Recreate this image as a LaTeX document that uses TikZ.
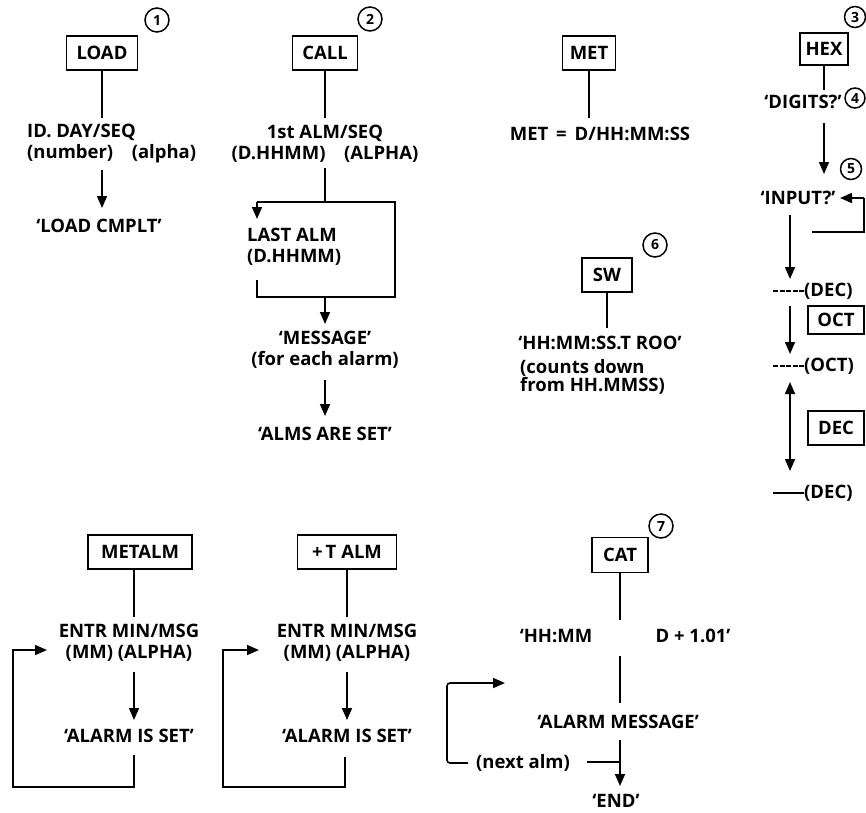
\documentclass[tikz,border=0pt]{standalone}
\usepackage{fontspec}
\setmainfont{Open Sans}
\usetikzlibrary{arrows.meta}
\begin{document}
\begin{tikzpicture}[x=1pt,y=-1pt,
  every node/.style={font=\fontsize{18.5}{21}\selectfont\bfseries, inner sep=0pt},
  fbox/.style={draw, line width=1.8pt, minimum height=34pt, inner sep=0pt},
  num/.style={draw, circle, line width=1.5pt, minimum size=24pt, font=\fontsize{14}{14}\selectfont\bfseries},
  ln/.style={line width=1.6pt},
  arr/.style={line width=1.6pt, -{Triangle[width=10pt,length=12pt]}},
  dashln/.style={line width=1.2pt, dash pattern=on 5pt off 1.5pt},
  txt/.style={align=center},
  txl/.style={align=left},
]
\useasboundingbox (0,0) rectangle (866,812);

% ---------- LOAD ----------
\node[fbox, minimum width=71pt] (load) at (102,53) {LOAD};
\node[num] (c1) at (157,20) {1};
\coordinate (loadE) at (102,118);
\draw[ln] (load) -- (loadE);
\node[txl, anchor=west] (idday) at (27,144) {ID. DAY/SEQ\\(number)\quad(alpha)};
\coordinate (loadA) at (102,170);
\coordinate (loadB) at (102,208);
\draw[arr] (loadA) -- (loadB);
\node (cmplt) at (99,226) {`LOAD CMPLT'};
% ---------- CALL ----------
\node[fbox, minimum width=65pt] (call) at (325,53) {CALL};
\node[num] (c2) at (370,19) {2};
\coordinate (callE) at (325,118);
\draw[ln] (call) -- (callE);
\node[txt] (first) at (325,144) {1st ALM/SEQ\\(D.HHMM)\quad(ALPHA)};
\coordinate (firstB) at (325,168);
\coordinate (lpTM) at (325,202);
\coordinate (lpTL) at (257,202);
\coordinate (lpTR) at (395,202);
\coordinate (lpBR) at (395,297);
\coordinate (lpBM) at (325,297);
\coordinate (lpBL) at (257,297);
\coordinate (lpStub) at (257,280);
\coordinate (lpArr) at (257,219);
\draw[ln] (firstB) -- (lpTM);
\draw[ln] (lpTL) -- (lpTR) -- (lpBR) -- (lpBL) -- (lpStub);
\draw[arr] (lpTL) -- (lpArr);
\node[txl, anchor=west] (last) at (247,247) {LAST ALM\\(D.HHMM)};
\coordinate (msgT) at (325,324);
\draw[arr] (lpBM) -- (msgT);
\node[txt] (msg) at (325,350) {`MESSAGE'\\(for each alarm)};
\coordinate (msgB) at (325,380);
\coordinate (almsT) at (325,416);
\draw[arr] (msgB) -- (almsT);
\node (almsset) at (325,434) {`ALMS ARE SET'};
% ---------- MET ----------
\node[fbox, minimum width=53pt] (met) at (589,53) {MET};
\coordinate (metE) at (589,118);
\draw[ln] (met) -- (metE);
\node (meteq) at (600,134) {MET \,=\, D/HH:MM:SS};
% ---------- SW ----------
\node[fbox, minimum width=50pt] (sw) at (607,275) {SW};
\node[num] (c6) at (655,245) {6};
\coordinate (swE) at (607,328);
\draw[ln] (sw) -- (swE);
\node (swt) at (600,343) {`HH:MM:SS.T ROO'};
\node[txl, anchor=west, font=\fontsize{18.5}{17.5}\selectfont\bfseries] (swc) at (520,377) {(counts down\\from HH.MMSS)};
% ---------- HEX ----------
\node[fbox, minimum width=48pt, minimum height=32pt] (hex) at (824,49) {HEX};
\node[num, minimum size=21pt] (c3) at (855,17) {3};
\coordinate (hexE) at (824,90);
\draw[ln] (hex) -- (hexE);
\node (digits) at (803,102) {`DIGITS?'};
\node[num, minimum size=20pt] (c4) at (855,98) {4};
\coordinate (digA) at (824,123);
\coordinate (inpT) at (824,174);
\draw[arr] (digA) -- (inpT);
\node[num, minimum size=21pt] (c5) at (851,169) {5};
\node (input) at (798,198) {`INPUT?'};
\coordinate (rtA) at (864,198);
\coordinate (rtB) at (864,232);
\coordinate (rtC) at (812,232);
\coordinate (inpE) at (840,198);
\draw[ln] (rtC) -- (rtB) -- (rtA);
\draw[arr] (rtA) -- (inpE);
\coordinate (a2s) at (790,215);
\coordinate (a2e) at (790,279);
\draw[arr] (a2s) -- (a2e);
\node[anchor=west] (dec1) at (804,291) {(DEC)};
\coordinate (d1) at (773,291);
\draw[dashln] (d1) -- (dec1.west);
\node[fbox, minimum width=56pt, minimum height=28pt] (oct) at (836,320) {OCT};
\coordinate (a3s) at (790,306);
\coordinate (a3e) at (790,354);
\draw[arr] (a3s) -- (a3e);
\node[anchor=west] (octl) at (804,366) {(OCT)};
\coordinate (d2) at (773,366);
\draw[dashln] (d2) -- (octl.west);
\node[fbox, minimum width=56pt, minimum height=34pt] (dec) at (836,428) {DEC};
\coordinate (a4s) at (790,382);
\coordinate (a4e) at (790,471);
\draw[line width=1.6pt, {Triangle[width=10pt,length=12pt]}-{Triangle[width=10pt,length=12pt]}] (a4s) -- (a4e);
\node[anchor=west] (dec2) at (804,493) {(DEC)};
\coordinate (d3) at (773,493);
\draw[line width=1.2pt] (d3) -- (dec2.west);
% ---------- METALM ----------
\node[fbox, minimum width=104pt] (metalm) at (140,552) {METALM};
\coordinate (mE) at (134,617);
\draw[ln] (metalm.south -| mE) -- (mE);
\node[txt] (mentr) at (129,643) {ENTR MIN/MSG\\(MM) (ALPHA)};
\coordinate (mA) at (134,672);
\coordinate (mB) at (134,720);
\draw[arr] (mA) -- (mB);
\node (mset) at (129,736) {`ALARM IS SET'};
\coordinate (mL1) at (134,755);
\coordinate (mL2) at (134,787);
\coordinate (mL3) at (13,787);
\coordinate (mL4) at (13,650);
\coordinate (mL5) at (47,650);
\draw[arr] (mL1) -- (mL2) -- (mL3) -- (mL4) -- (mL5);
% ---------- +T ALM ----------
\node[fbox, minimum width=99pt] (talm) at (347,552) {+\,T ALM};
\coordinate (tE) at (347,617);
\draw[ln] (talm) -- (tE);
\node[txt] (tentr) at (347,643) {ENTR MIN/MSG\\(MM) (ALPHA)};
\coordinate (tA) at (347,672);
\coordinate (tB) at (347,720);
\draw[arr] (tA) -- (tB);
\node (tset) at (347,736) {`ALARM IS SET'};
\coordinate (tL1) at (345,757);
\coordinate (tL2) at (345,787);
\coordinate (tL3) at (223,787);
\coordinate (tL4) at (223,650);
\coordinate (tL5) at (259,650);
\draw[arr] (tL1) -- (tL2) -- (tL3) -- (tL4) -- (tL5);
% ---------- CAT ----------
\node[fbox, minimum width=56pt, minimum height=35pt] (cat) at (620,555) {CAT};
\node[num] (c7) at (661,526) {7};
\coordinate (cE) at (620,620);
\draw[ln] (cat) -- (cE);
\node (hhmm) at (556,636) {`HH:MM};
\node (dplus) at (693,636) {D + 1.01'};
\coordinate (cA) at (620,656);
\coordinate (cB) at (620,703);
\draw[ln] (cA) -- (cB);
\node (almmsg) at (618,722) {`ALARM MESSAGE'};
\coordinate (cC) at (620,740);
\coordinate (cD) at (620,786);
\draw[arr] (cC) -- (cD);
\node (endt) at (616,801) {`END'};
\coordinate (cH) at (587,762);
\coordinate (cJ) at (620,762);
\draw[ln] (cH) -- (cJ);
\node (next) at (523,763) {(next alm)};
\coordinate (nL1) at (468,763);
\coordinate (nL2) at (447,763);
\coordinate (nL3) at (447,683);
\coordinate (nL4) at (505,683);
\draw[arr, rounded corners=3pt] (nL1) -- (nL2) -- (nL3) -- (nL4);
\end{tikzpicture}
\end{document}
